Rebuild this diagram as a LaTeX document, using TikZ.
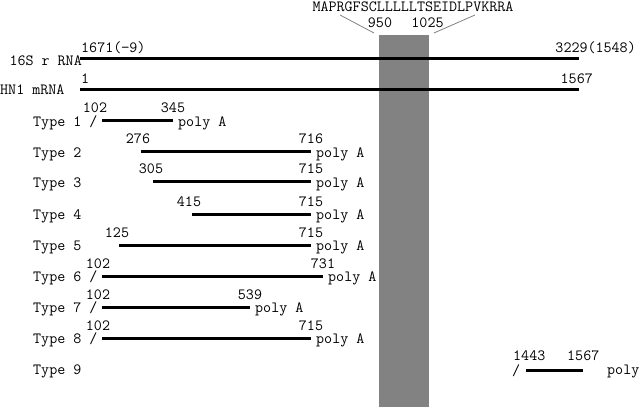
\documentclass[tikz,border=0pt]{standalone}
\usepackage{fontspec}
\definecolor{bandgray}{RGB}{130,130,130}
\begin{document}
\begin{tikzpicture}[x=1pt,y=-1pt,
  every node/.style={font=\fontsize{15.6}{18}\ttfamily, inner sep=0pt, anchor=base},
  rna/.style={line width=3pt},
  lbl/.style={anchor=base west},
  lble/.style={anchor=base east},
  pointer/.style={draw=bandgray, line width=0.8pt}]
\useasboundingbox (0,0) rectangle (640,407);
% grey band
\fill[bandgray] (379,35) rectangle (429,407);
% peptide sequence and pointers
\node (seq) at (413,11.5) {MAPRGFSCLLLLLTSEIDLPVKRRA};
\node (p950) at (380,27.5) {950};
\node (p1025) at (427.5,27.5) {1025};
\coordinate (ql1) at (340,15); \coordinate (ql2) at (374,33);
\coordinate (qr1) at (475,15); \coordinate (qr2) at (434,33);
\draw[pointer] (ql1) -- (ql2);
\draw[pointer] (qr1) -- (qr2);
% 16S rRNA
\coordinate (r16a) at (80,58.3); \coordinate (r16b) at (579,58.3);
\draw[rna] (r16a) -- (r16b);
\node[lble] (l16) at (82,65.5) {16S r RNA};
\node[lbl] (n16a) at (81,52) {1671(−9)};
\node[lble] (n16b) at (636,52) {3229(1548)};
% HN1 mRNA
\coordinate (hna) at (80,89.3); \coordinate (hnb) at (579,89.3);
\draw[rna] (hna) -- (hnb);
\node[lbl] (lhn) at (0,94.5) {HN1 mRNA};
\node[lbl] (nhna) at (81,83) {1};
\node[lble] (nhnb) at (593,83) {1567};
% types 1-8
\foreach \i/\lab/\a/\b/\L/\m/\mx/\n in {
  1/{Type 1 /}/102/173/120.7/102/95/345,
  2/{Type 2}/141/311/151.7/276/138/716,
  3/{Type 3}/153/311/181.7/305/151/715,
  4/{Type 4}/192/311/214/415/189/715,
  5/{Type 5}/119/311/245/125/117/715,
  6/{Type 6 /}/102/323/276/102/98/731,
  7/{Type 7 /}/102/250/307/102/98/539,
  8/{Type 8 /}/102/311/338/102/98/715}{
  \coordinate (s\i) at (\a,\L);
  \coordinate (e\i) at (\b,\L);
  \draw[rna] (s\i) -- (e\i);
  \node[lbl] (t\i) at (33,\L+5.5) {\lab};
  \node (m\i) at (\mx,\L-8) {\m};
  \node (n\i) at (\b,\L-8) {\n};
  \node[lbl] (pa\i) at (\b+5,\L+5.5) {poly A};
}
% type 9
\node[lbl] (t9) at (33,374.5) {Type 9};
\node[lbl] (sl9) at (512,375) {/};
\coordinate (s9) at (526,370); \coordinate (e9) at (583,370);
\draw[rna] (s9) -- (e9);
\node[lbl] (m9) at (513,360.5) {1443};
\node[lbl] (n9) at (567,360.5) {1567};
\node[lbl] (pa9) at (607,374.5) {poly};
\end{tikzpicture}
\end{document}
